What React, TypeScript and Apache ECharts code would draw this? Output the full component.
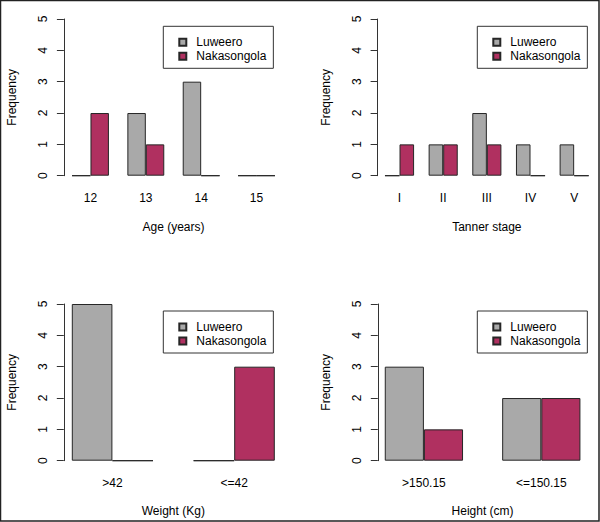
import React, { useEffect, useRef } from "react";
import * as echarts from "echarts";

const seriesNames = ["Luweero", "Nakasongola"];
const seriesColors = ["#A9A9A9", "#B03060"];

const ageCategories = ["12", "13", "14", "15"];
const ageLuweero = [0, 2, 3, 0];
const ageNakasongola = [2, 1, 0, 0];

const tannerCategories = ["I", "II", "III", "IV", "V"];
const tannerLuweero = [0, 1, 2, 1, 1];
const tannerNakasongola = [1, 1, 1, 0, 0];

const weightCategories = [">42", "<=42"];
const weightLuweero = [5, 0];
const weightNakasongola = [0, 3];

const heightCategories = [">150.15", "<=150.15"];
const heightLuweero = [3, 2];
const heightNakasongola = [1, 2];

const yTicks = [0, 1, 2, 3, 4, 5];

const panels = [
  { cats: ageCategories, a: ageLuweero, b: ageNakasongola, xName: "Age (years)" },
  { cats: tannerCategories, a: tannerLuweero, b: tannerNakasongola, xName: "Tanner stage" },
  { cats: weightCategories, a: weightLuweero, b: weightNakasongola, xName: "Weight (Kg)" },
  { cats: heightCategories, a: heightLuweero, b: heightNakasongola, xName: "Height (cm)" },
];

// layout (pixels)
const layout = [
  { gridLeft: 62.8, gridWidth: 221.4, axisX: 63.9, top: 19, legendLeft: 163.3, legendTop: 26.3 },
  { gridLeft: 377.7, gridWidth: 218.3, axisX: 377.6, top: 19, legendLeft: 477.3, legendTop: 26.3 },
  { gridLeft: 51.5, gridWidth: 243.6, axisX: 63.8, top: 304, legendLeft: 163.3, legendTop: 311 },
  { gridLeft: 365.2, gridWidth: 243.6, axisX: 377.8, top: 304, legendLeft: 477.3, legendTop: 311 },
];
const plotHeight = 156.7;

const FONT = "'Liberation Sans', Arial, Helvetica, sans-serif";

export default function App() {
  const ref = useRef<HTMLDivElement>(null);

  useEffect(() => {
    document.body.style.margin = "0";
    if (!ref.current) return;
    const chart = echarts.init(ref.current, null, { renderer: "svg" });

    const grid = layout.map((l) => ({
      left: l.gridLeft,
      top: l.top,
      width: l.gridWidth,
      height: plotHeight,
      containLabel: false,
    }));

    const xAxis = panels.map((p, i) => ({
      type: "category",
      gridIndex: i,
      data: p.cats,
      boundaryGap: true,
      axisLine: { show: false },
      axisTick: { show: false },
      splitLine: { show: false },
      axisLabel: {
        show: true,
        margin: 16,
        color: "#000",
        fontSize: 12,
        fontFamily: FONT,
        interval: 0,
      },
      name: p.xName,
      nameLocation: "middle",
      nameGap: i < 2 ? 45 : 44,
      nameTextStyle: { color: "#000", fontSize: 12, fontFamily: FONT },
    }));

    const yAxis = panels.map((p, i) => ({
      type: "value",
      gridIndex: i,
      min: yTicks[0],
      max: yTicks[yTicks.length - 1],
      interval: 1,
      offset: layout[i].gridLeft - layout[i].axisX,
      axisLine: { show: true, lineStyle: { color: "#333", width: 1 } },
      axisTick: { show: true, length: 7, inside: false, lineStyle: { color: "#333", width: 1 } },
      splitLine: { show: false },
      axisLabel: {
        show: true,
        rotate: 90,
        margin: 15,
        color: "#000",
        fontSize: 12,
        fontFamily: FONT,
      },
      name: "Frequency",
      nameLocation: "middle",
      nameGap: 46,
      nameRotate: 90,
      nameTextStyle: { color: "#000", fontSize: 12, fontFamily: FONT },
    }));

    const series: any[] = [];
    panels.forEach((p, i) => {
      [p.a, p.b].forEach((vals, k) => {
        series.push({
          type: "bar",
          name: seriesNames[k],
          xAxisIndex: i,
          yAxisIndex: i,
          data: vals,
          barGap: "0%",
          barCategoryGap: "33.333%",
          itemStyle: {
            color: seriesColors[k],
            borderColor: "#262626",
            borderWidth: 1,
          },
          emphasis: { disabled: true },
        });
      });
    });

    const legend = layout.map((l) => ({
      show: true,
      orient: "vertical",
      left: l.legendLeft,
      top: l.legendTop,
      data: seriesNames,
      icon: "rect",
      itemWidth: 7,
      itemHeight: 7,
      itemGap: 0,
      padding: [9, 7, 5, 15],
      borderColor: "#333",
      borderWidth: 1,
      backgroundColor: "#fff",
      selectedMode: false,
      textStyle: {
        color: "#000",
        fontSize: 12,
        fontFamily: FONT,
        lineHeight: 14,
        padding: [0, 0, 0, 5],
      },
    }));

    chart.setOption({
      animation: false,
      backgroundColor: "#fff",
      textStyle: { fontFamily: FONT },
      grid,
      xAxis,
      yAxis,
      series,
      legend,
      graphic: [
        {
          type: "rect",
          shape: { x: 0.5, y: 0.5, width: 598.5, height: 520.5 },
          style: { fill: "none", stroke: "#222", lineWidth: 1.5 },
          silent: true,
        },
      ],
    });

    return () => {
      chart.dispose();
    };
  }, []);

  return <div ref={ref} style={{ width: 600, height: 522 }} />;
}
